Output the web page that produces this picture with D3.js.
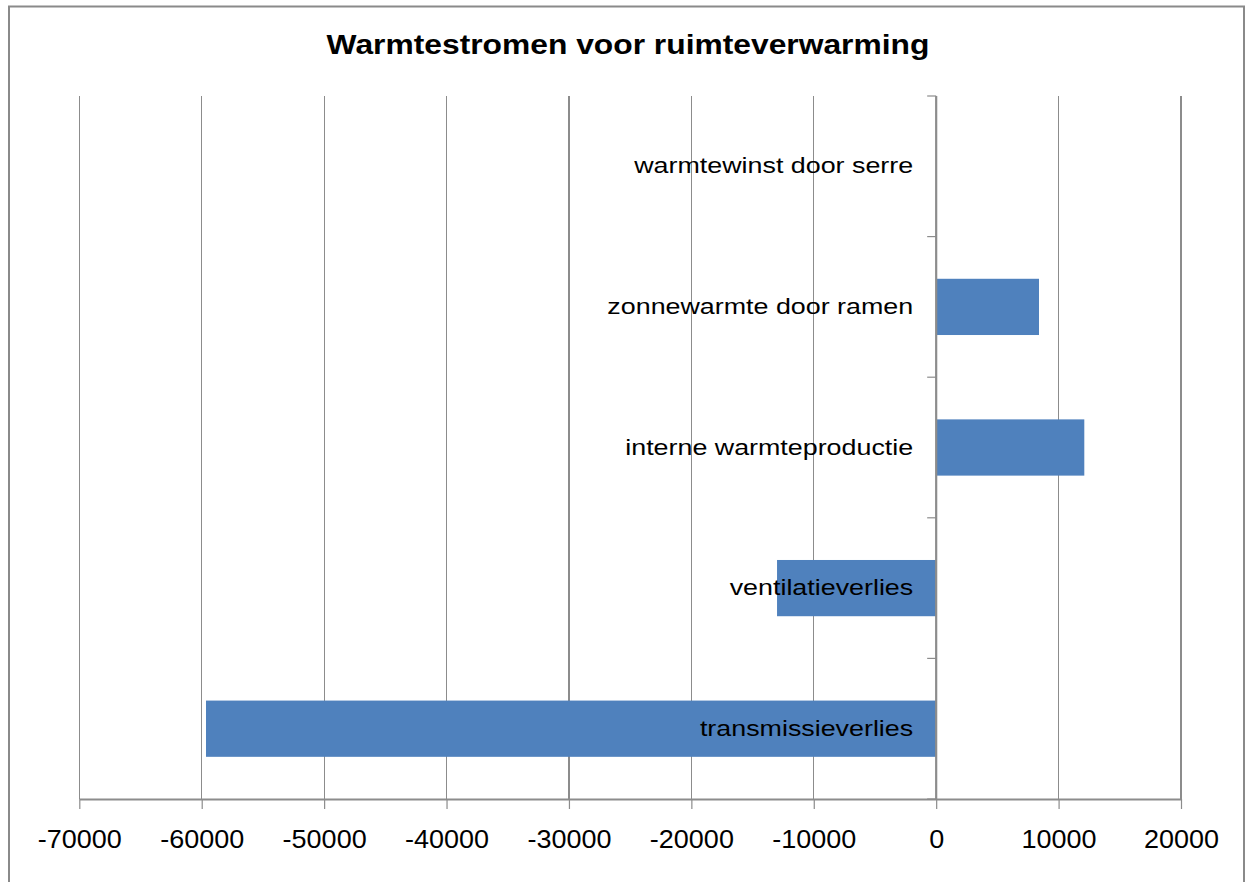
<!DOCTYPE html>
<html>
<head>
<meta charset="utf-8">
<script src="https://cdn.jsdelivr.net/npm/d3@7"></script>
<style>
  html, body { margin: 0; padding: 0; background: #fff; }
  svg { display: block; font-family: "Liberation Sans", Arial, sans-serif; }
</style>
</head>
<body>
<svg id="chart" width="1248" height="882"></svg>
<script>
// ---- data ----
const title = "Warmtestromen voor ruimteverwarming";
const categories = [
  "warmtewinst door serre",
  "zonnewarmte door ramen",
  "interne warmteproductie",
  "ventilatieverlies",
  "transmissieverlies"
];
const values = [0, 8400, 12100, -13000, -59650];
const xTicks = [-70000, -60000, -50000, -40000, -30000, -20000, -10000, 0, 10000, 20000];
const xDomain = [-70000, 20000];

// ---- layout ----
const svg = d3.select("#chart");
const plot = { left: 79.3, right: 1181, top: 96, bottom: 799 };
const gridColor = "#8c8c8c";
const barColor = "#4f81bd";

// outer chart border
svg.append("rect")
  .attr("x", 9).attr("y", 6.5).attr("width", 1235).attr("height", 890)
  .attr("fill", "none").attr("stroke", "#8a8a8a").attr("stroke-width", 2);

const x = d3.scaleLinear().domain(xDomain).range([plot.left, plot.right]);
const y = d3.scaleBand().domain(categories).range([plot.top, plot.bottom]).paddingInner(0.6).paddingOuter(0.3);
const yb = d3.scaleBand().domain(categories).range([plot.top, plot.bottom]);

// vertical gridlines
svg.append("g").selectAll("line").data(xTicks.filter(t => t !== 0)).join("line")
  .attr("x1", d => x(d)).attr("x2", d => x(d))
  .attr("y1", plot.top).attr("y2", plot.bottom)
  .attr("stroke", gridColor).attr("stroke-width", 1.2)
  .attr("shape-rendering", "crispEdges");

// bars
svg.append("g").selectAll("rect").data(categories).join("rect")
  .attr("x", (d, i) => x(Math.min(0, values[i])))
  .attr("width", (d, i) => Math.abs(x(values[i]) - x(0)))
  .attr("y", d => y(d))
  .attr("height", y.bandwidth())
  .attr("fill", barColor);

// x axis
const xAxis = svg.append("g")
  .attr("transform", `translate(0,${plot.bottom})`)
  .call(d3.axisBottom(x).tickValues(xTicks).tickFormat(d => String(d)).tickSize(10).tickPadding(21).tickSizeOuter(0));
xAxis.select(".domain").attr("stroke", gridColor).attr("stroke-width", 2);
xAxis.selectAll(".tick line").attr("stroke", gridColor).attr("stroke-width", 1.2);
xAxis.selectAll(".tick text")
  .attr("font-size", 25).attr("fill", "#000")
  .attr("font-family", "Liberation Sans, Arial, sans-serif")
  .each(function() {
    const w = this.getComputedTextLength();
    d3.select(this).attr("textLength", w * 1.08).attr("lengthAdjust", "spacingAndGlyphs");
  });

// y axis at zero: boundary ticks
const yAxisG = svg.append("g");
const bounds = categories.map(c => yb(c)).concat([plot.bottom]);
yAxisG.selectAll("line.tk").data(bounds).join("line")
  .attr("class", "tk")
  .attr("x1", x(0) - 9).attr("x2", x(0))
  .attr("y1", d => d).attr("y2", d => d)
  .attr("stroke", gridColor).attr("stroke-width", 1.2);
yAxisG.append("line")
  .attr("x1", x(0)).attr("x2", x(0))
  .attr("y1", plot.top).attr("y2", plot.bottom)
  .attr("stroke", gridColor).attr("stroke-width", 2.2);

// category labels
const yAxis = svg.append("g")
  .attr("transform", `translate(${x(0)},0)`)
  .call(d3.axisLeft(yb).tickSize(0).tickPadding(23));
yAxis.select(".domain").remove();
yAxis.selectAll(".tick text")
  .attr("font-size", 22).attr("fill", "#000")
  .attr("font-family", "Liberation Sans, Arial, sans-serif")
  .each(function() {
    const w = this.getComputedTextLength();
    d3.select(this).attr("textLength", w * 1.22).attr("lengthAdjust", "spacingAndGlyphs");
  });

// title
const t = svg.append("text")
  .attr("x", 628).attr("y", 54)
  .attr("text-anchor", "middle")
  .attr("font-size", 28).attr("font-weight", "bold")
  .attr("fill", "#000")
  .text(title);
t.attr("textLength", t.node().getComputedTextLength() * 1.135).attr("lengthAdjust", "spacingAndGlyphs");
</script>
</body>
</html>
